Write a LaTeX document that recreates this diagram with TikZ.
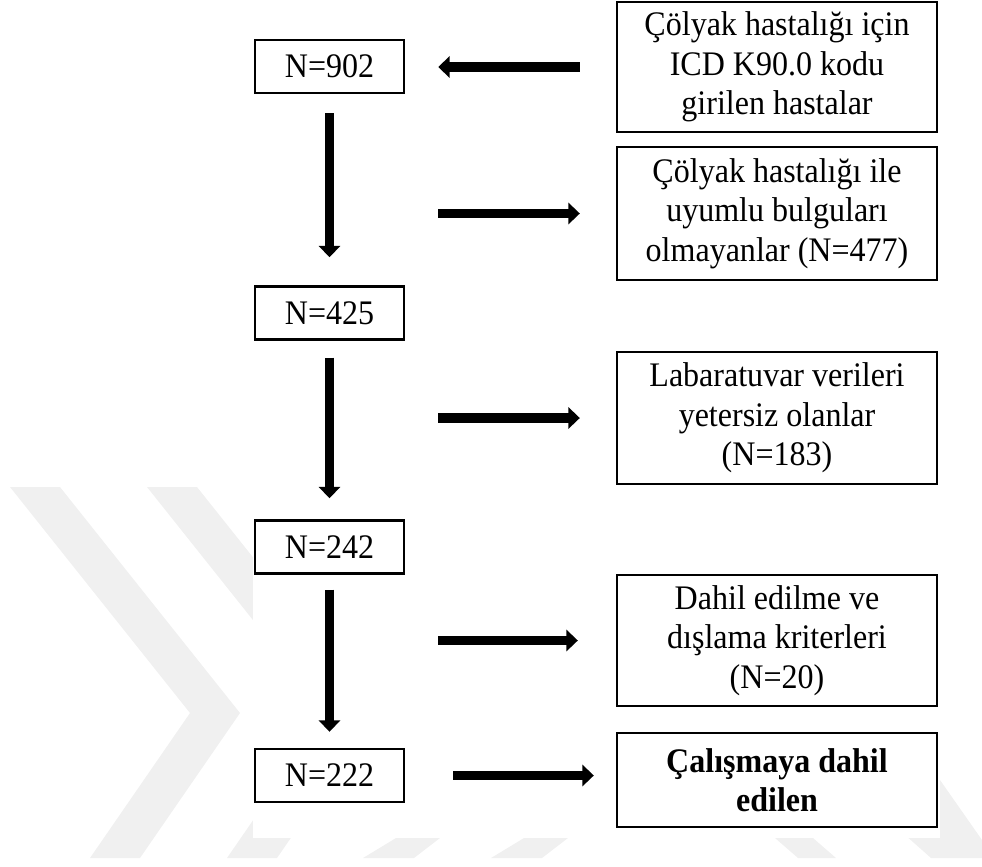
\documentclass[tikz,border=0pt]{standalone}
\usepackage{fontspec}
\setmainfont{Liberation Serif}[FakeStretch=0.93]
\usetikzlibrary{arrows.meta}

\begin{document}
\begin{tikzpicture}[x=0.02cm,y=-0.02cm,
  box/.style={draw=black,line width=1.4pt,fill=white,inner sep=0pt,align=center,font=\fontsize{19.6}{22.4}\selectfont},
  leftbox/.style={box,minimum width=2.98cm,minimum height=1.06cm},
  rightbox/.style={box,minimum width=6.4cm},
  blk/.style={line width=5.6pt,-{Triangle[width=12pt,length=6.5pt]}},
  wm/.style={fill=black!6,draw=none}]
\useasboundingbox (0,0) rectangle (982,866);
\fill[wm] (10,487) -- (60,487) -- (240,713) -- (140,858) -- (90,858) -- (190,713) -- cycle;
\fill[wm] (147,487) -- (197,487) -- (377,713) -- (277,858) -- (227,858) -- (327,713) -- cycle;
\fill[wm] (396,838) -- (440,838) -- (414,858) -- (363,858) -- cycle;
\fill[wm] (524,838) -- (568,838) -- (542,858) -- (491,858) -- cycle;
\fill[wm] (775,838) -- (813,838) -- (836,858) -- (798,858) -- cycle;
\fill[wm] (843,780) -- (940,780) -- (982,840) -- (982,858) -- (931,858) -- cycle;
\fill[white] (253,0) rectangle (940,838);
\node[leftbox] (n902) at (329.5,66.5) {N=902};
\node[leftbox] (n425) at (329.5,313) {N=425};
\node[leftbox] (n242) at (329.5,547) {N=242};
\node[leftbox] (n222) at (329.5,775.5) {N=222};
\node[rightbox,minimum height=2.6cm] (r1) at (777,67) {Çölyak hastalığı için\\ICD K90.0 kodu\\girilen hastalar};
\node[rightbox,minimum height=2.66cm] (r2) at (777,213.5) {Çölyak hastalığı ile\\uyumlu bulguları\\olmayanlar (N=477)};
\node[rightbox,minimum height=2.64cm] (r3) at (777,418) {Labaratuvar verileri\\yetersiz olanlar\\(N=183)};
\node[rightbox,minimum height=2.62cm] (r4) at (777,640.5) {Dahil edilme ve\\dışlama kriterleri\\(N=20)};
\node[rightbox,minimum height=1.88cm,font=\fontsize{19.6}{22.4}\selectfont\bfseries] (r5) at (777,780) {Çalışmaya dahil\\edilen};
\draw[blk,shorten <=0.72cm,shorten >=0.66cm] (r1.west) -- (r1.west -| n902.east);
\draw[blk,shorten <=0.38cm,shorten >=0.56cm] (n902) -- (n425);
\draw[blk,shorten <=0.34cm,shorten >=0.42cm] (n425) -- (n242);
\draw[blk,shorten <=0.30cm,shorten >=0.32cm] (n242) -- (n222);
\draw[blk,shorten <=0.66cm,shorten >=0.72cm] (n902.east |- r2.west) -- (r2.west);
\draw[blk,shorten <=0.66cm,shorten >=0.72cm] (n425.east |- r3.west) -- (r3.west);
\draw[blk,shorten <=0.66cm,shorten >=0.76cm] (n242.east |- r4.west) -- (r4.west);
\draw[blk,shorten <=0.96cm,shorten >=0.44cm] (n222.east) -- (n222.east -| r5.west);
\end{tikzpicture}
\end{document}
